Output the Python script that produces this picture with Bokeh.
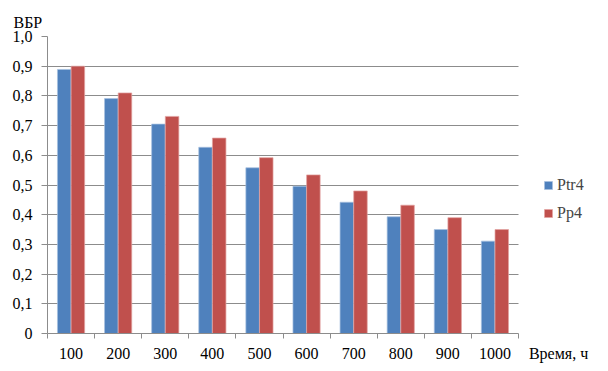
from bokeh.plotting import figure
from bokeh.models import (ColumnDataSource, FixedTicker, Legend, LegendItem, Title,
                          Range1d, BoxAnnotation)
from bokeh.transform import dodge
from bokeh.embed import file_html
from bokeh.resources import INLINE

# ---- data ----
hours = ["100", "200", "300", "400", "500", "600", "700", "800", "900", "1000"]
ptr4 = [0.889, 0.791, 0.705, 0.627, 0.558, 0.496, 0.442, 0.393, 0.350, 0.311]
pp4 = [0.900, 0.810, 0.731, 0.658, 0.592, 0.534, 0.480, 0.432, 0.390, 0.350]
y_ticks = [0.0, 0.1, 0.2, 0.3, 0.4, 0.5, 0.6, 0.7, 0.8, 0.9, 1.0]
y_tick_labels = ["0", "0,1", "0,2", "0,3", "0,4", "0,5", "0,6", "0,7", "0,8", "0,9", "1,0"]
y_title = "ВБР"
x_title = "Время, ч"

FONT = "Liberation Serif, serif"
GRID = "#8c8c8c"
BLUE = "#4F81BD"
RED = "#C0504D"

n = len(hours)
centers = [i + 0.5 for i in range(n)]
PLOT_W = 471          # pixel width of the bar area
FRAME_W = 553         # frame extends right to hold legend and axis caption
x_end = n * FRAME_W / PLOT_W
x_title_pos = n + 0.85

src = ColumnDataSource(dict(x=centers, ptr4=ptr4, pp4=pp4))

p = figure(frame_width=FRAME_W, frame_height=297,
           min_border_left=47, min_border_top=36, min_border_right=0, min_border_bottom=32,
           x_range=Range1d(0, x_end), y_range=Range1d(0, 1.0),
           output_backend="svg", toolbar_location=None)
p.outline_line_color = None
p.background_fill_color = "white"
p.border_fill_color = "white"

r1 = p.vbar(x=dodge("x", -0.145, range=p.x_range), top="ptr4", width=0.287, bottom=0,
            source=src, fill_color=BLUE, line_color="#a7c0df", line_alpha=0.7, line_width=1)
r2 = p.vbar(x=dodge("x", 0.145, range=p.x_range), top="pp4", width=0.287, bottom=0,
            source=src, fill_color=RED, line_color="#e2a3a1", line_alpha=0.7, line_width=1)

# y axis
p.yaxis.ticker = FixedTicker(ticks=y_ticks)
p.yaxis.major_label_overrides = {t: l for t, l in zip(y_ticks, y_tick_labels)}
p.yaxis.axis_line_color = GRID
p.yaxis.major_tick_line_color = GRID
p.yaxis.major_tick_out = 6
p.yaxis.major_tick_in = 0
p.yaxis.minor_tick_line_color = None
p.yaxis.major_label_standoff = 9
p.yaxis.major_label_text_font = FONT
p.yaxis.major_label_text_font_size = "16px"
p.yaxis.major_label_text_color = "black"

# x axis (caption is an extra label right of the last category)
p.xaxis.bounds = (0, n)
p.xaxis.ticker = FixedTicker(ticks=centers + [x_title_pos], minor_ticks=list(range(n + 1)))
overrides = {c: h for c, h in zip(centers, hours)}
overrides[x_title_pos] = x_title
p.xaxis.major_label_overrides = overrides
p.xaxis.axis_line_color = GRID
p.xaxis.major_tick_line_color = None
p.xaxis.major_tick_out = 0
p.xaxis.major_tick_in = 0
p.xaxis.minor_tick_line_color = GRID
p.xaxis.minor_tick_out = 5
p.xaxis.minor_tick_in = 0
p.xaxis.major_label_standoff = 6
p.xaxis.major_label_text_font = FONT
p.xaxis.major_label_text_font_size = "16px"
p.xaxis.major_label_text_color = "black"

# grid, limited to the bar area
p.xgrid.grid_line_color = None
p.ygrid.ticker = FixedTicker(ticks=y_ticks)
p.ygrid.grid_line_color = GRID
p.ygrid.grid_line_width = 1
p.add_layout(BoxAnnotation(left=n, fill_color="white", fill_alpha=1.0, line_color=None,
                           level="underlay"))

# y caption as title above the plot
p.add_layout(Title(text=y_title, align="left", offset=-34, standoff=12,
                   text_font=FONT, text_font_size="16px", text_font_style="normal",
                   text_color="black"), "above")

legend = Legend(items=[LegendItem(label="Ptr4", renderers=[r1]),
                       LegendItem(label="Pp4", renderers=[r2])],
                location=(496, 111), padding=0, margin=0, spacing=10,
                glyph_width=10, glyph_height=10, label_height=10, label_standoff=4,
                label_text_font=FONT, label_text_font_size="16px",
                border_line_color=None, background_fill_alpha=0)
p.add_layout(legend, "center")

open("out.html", "w").write(file_html(p, INLINE))
